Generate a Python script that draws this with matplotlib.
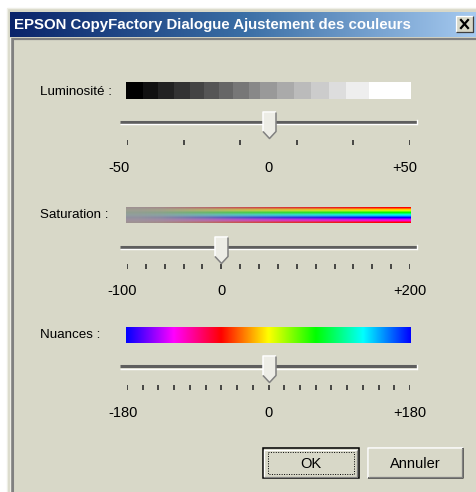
import numpy as np
import matplotlib
matplotlib.use("Agg")
import matplotlib.pyplot as plt
from matplotlib.colors import LinearSegmentedColormap, hsv_to_rgb
from matplotlib.patches import Rectangle
from matplotlib.path import Path

# --- données du dialogue -------------------------------------------------
TITLE = "EPSON CopyFactory Dialogue Ajustement des couleurs"
slider_names = ["Luminosité :", "Saturation :", "Nuances :"]
slider_ranges = [(-50, 50), (-100, 200), (-180, 180)]
slider_values = [0, 0, 0]
tick_step = 20
tick_labels = [["-50", "0", "+50"], ["-100", "0", "+200"], ["-180", "0", "+180"]]

# bande de luminosité : 16 paliers de gris (bords en fraction de la bande)
lum_edges = [0.0, 0.059, 0.114, 0.169, 0.225, 0.272, 0.325, 0.377, 0.430,
             0.471, 0.529, 0.588, 0.649, 0.714, 0.773, 0.852, 1.0]
lum_grays = [0, 17, 34, 51, 68, 85, 102, 119, 136, 153, 170, 187, 204, 221, 238, 255]

# bande de saturation : niveaux de saturation par bloc (gauche -> droite)
sat_levels = [0.05, 0.1, 0.2, 0.3, 0.42, 0.52, 0.62, 0.7, 0.78, 0.86, 0.94, 1.0]
sat_gray = 0.6
sat_rows = 16

# bande des nuances : teinte de départ (bleu) sur 360°
hue_start = 240

button_labels = ["OK", "Annuler"]

# --- mise en page (pixels) -------------------------------------------------
W, H = 477, 492
BG = "#D8D8C8"
DARK = "#808080"
# (haut bande, bas bande, y glissière, haut curseur, bas curseur, y graduations, y nombres, y nom)
sections = [
    (82, 99, 122, 112, 138, 140, 168, 92),
    (207, 223, 247, 237, 262, 264, 291, 215),
    (327, 343, 367, 357, 382, 385, 413, 335),
]
label_dx = [(-8, 0, -5), (-5, 0, 0), (-4, 0, 0)]
X0, X1 = 127, 410  # première et dernière graduation

NARROW = ["Liberation Sans Narrow", "Liberation Sans", "DejaVu Sans"]
SANS = ["Liberation Sans", "DejaVu Sans"]

fig = plt.figure(figsize=(W / 100, H / 100), dpi=100)
fig.patch.set_facecolor("white")
ax = fig.add_axes([0, 0, 1, 1])
ax.set_xlim(0, W)
ax.set_ylim(H, 0)
ax.axis("off")


def bevel(a, x0, y0, x1, y1, light="white", dark=DARK, lw=0.9):
    a.plot([x0, x0, x1], [y1, y0, y0], color=light, lw=lw, solid_capstyle="butt", zorder=3)
    a.plot([x0, x1, x1], [y1, y1, y0], color=dark, lw=lw, solid_capstyle="butt", zorder=3)


# cadre de la fenêtre
ax.add_patch(Rectangle((7, 8), W, H, facecolor=BG, edgecolor="#EEEEE6", lw=1, zorder=1))

# barre de titre en dégradé
cmap_title = LinearSegmentedColormap.from_list("title", ["#0A246A", "#3A6EA5", "#A6CAF0"])
ax.imshow(np.linspace(0, 1, 256)[None, :], cmap=cmap_title, aspect="auto",
          extent=(10, W, 37, 12), interpolation="bilinear", zorder=2)
ax.text(14, 25, TITLE, color="white", fontsize=10.8, fontweight="bold",
        family=SANS, va="center", ha="left", zorder=4)

# bouton de fermeture
ax.add_patch(Rectangle((456, 16), 17, 16, facecolor=BG, edgecolor="none", zorder=3))
bevel(ax, 456, 16, 473, 32, dark="#404040")
ax.plot([461, 468], [20, 28], color="black", lw=1.6, zorder=4)
ax.plot([468, 461], [20, 28], color="black", lw=1.6, zorder=4)

# bordure enfoncée de la zone client
ax.plot([11, W], [38.5, 38.5], color=DARK, lw=1.6, solid_capstyle="butt", zorder=3)
ax.plot([12.5, 12.5], [38, H], color=DARK, lw=2.2, solid_capstyle="butt", zorder=3)
ax.plot([10, 10], [38, H], color="#EEEEE6", lw=1, zorder=3)

ax.set_xlim(0, W)
ax.set_ylim(H, 0)

# forme du curseur (pixels, y vers le haut)
thumb_fill = Path([(-6.5, 13), (6.5, 13), (6.5, -6), (0, -13), (-6.5, -6), (-6.5, 13)],
                  [Path.MOVETO] + [Path.LINETO] * 4 + [Path.CLOSEPOLY])
thumb_light = Path([(-6.5, -6), (-6.5, 13), (6.5, 13), (0, -13)],
                   [Path.MOVETO, Path.LINETO, Path.LINETO, Path.MOVETO])
thumb_dark = Path([(6.5, 13), (6.5, -6), (0, -13), (-6.5, -6), (0, 13)],
                  [Path.MOVETO, Path.LINETO, Path.LINETO, Path.LINETO, Path.MOVETO])
thumb_ms = 26 * 0.72

for i, (name, (vmin, vmax), val) in enumerate(zip(slider_names, slider_ranges, slider_values)):
    bt, bb, ty, tt, tb, gy, ny, namey = sections[i]
    y_top, y_bot = bt - 6, ny + 12
    sax = fig.add_axes([X0 / W, 1 - y_bot / H, (X1 - X0) / W, (y_bot - y_top) / H])
    sax.axis("off")
    k = (vmax - vmin) / (X1 - X0)  # unités par pixel

    # bande de couleur
    left, right = vmin - k, vmax + k
    if i == 0:
        edges = left + np.array(lum_edges) * (right - left)
        sax.bar(edges[:-1], bb - bt, width=np.diff(edges), bottom=bt, align="edge",
                color=[(g / 255, g / 255, g / 255) for g in lum_grays],
                edgecolor="none", clip_on=False)
    elif i == 1:
        hues = np.linspace(0, 1, sat_rows)
        pure = hsv_to_rgb(np.stack([hues, np.ones(sat_rows), np.ones(sat_rows)], axis=1))
        s = np.array(sat_levels)[None, :, None]
        img = sat_gray * (1 - s) + pure[:, None, :] * s
        sax.imshow(img, aspect="auto", extent=(left, right, bb, bt),
                   interpolation="bilinear", clip_on=False)
    else:
        n = 360
        hues = ((hue_start + np.linspace(0, 360, n)) % 360) / 360
        img = hsv_to_rgb(np.stack([hues, np.ones(n), np.ones(n)], axis=1))[None, :, :]
        sax.imshow(img, aspect="auto", extent=(left, right, bb, bt),
                   interpolation="bilinear", clip_on=False)

    # glissière
    sax.plot([vmin - 7 * k, vmax + 7 * k], [ty - 0.5, ty - 0.5], color="#5E5E5E",
             lw=2.2, solid_capstyle="butt", clip_on=False)
    sax.plot([vmin - 7 * k, vmax + 7 * k], [ty + 1.8, ty + 1.8], color="white",
             lw=1.0, solid_capstyle="butt", clip_on=False)
    sax.plot([vmax + 7 * k, vmax + 7 * k], [ty - 2, ty + 2], color="white", lw=1.0, clip_on=False)

    # graduations
    ticks = np.arange(vmin, vmax + 1, tick_step)
    sax.vlines(ticks, gy, gy + 5, color="#202020", lw=1.1)

    # curseur
    cy = (tt + tb) / 2
    sax.plot([val], [cy], marker=thumb_fill, ms=thumb_ms, mfc="#EDEDE6", mec="none",
             ls="none", clip_on=False)
    sax.plot([val], [cy], marker=thumb_light, ms=thumb_ms, mfc="none", mec="white",
             mew=1.1, ls="none", clip_on=False)
    sax.plot([val], [cy], marker=thumb_dark, ms=thumb_ms, mfc="none", mec=DARK,
             mew=1.1, ls="none", clip_on=False)

    # libellés numériques
    for xv, lab, dx in zip([vmin, 0, vmax], tick_labels[i], label_dx[i]):
        sax.text(xv + dx * k, ny, lab, ha="center", va="center", fontsize=10.5,
                 family=NARROW, color="black")

    sax.set_xlim(vmin, vmax)
    sax.set_ylim(y_bot, y_top)

    # nom du réglage
    ax.text(40, namey, name, ha="left", va="center", fontsize=9.6, family=SANS, color="black")

# boutons
ok_x0, ok_x1, by0, by1 = 263, 359, 448, 478
ax.add_patch(Rectangle((ok_x0, by0), ok_x1 - ok_x0, by1 - by0, facecolor=BG,
                       edgecolor="black", lw=1.1, zorder=2))
bevel(ax, ok_x0 + 1.5, by0 + 1.5, ok_x1 - 1.5, by1 - 1.5)
ax.add_patch(Rectangle((268, 452), 86, 22, facecolor="none", edgecolor="black",
                       lw=0.7, ls=(0, (1, 1.5)), zorder=3))
ax.text((ok_x0 + ok_x1) / 2, 463.5, button_labels[0], ha="center", va="center",
        fontsize=10.5, family=NARROW, zorder=4)

an_x0, an_x1 = 368, 463
ax.add_patch(Rectangle((an_x0, by0), an_x1 - an_x0, by1 - by0, facecolor=BG,
                       edgecolor="none", zorder=2))
bevel(ax, an_x0, by0, an_x1, by1, dark="#404040", lw=1.1)
bevel(ax, an_x0 + 1, by0 + 1, an_x1 - 1.2, by1 - 1.2, light=BG, dark=DARK)
ax.text((an_x0 + an_x1) / 2, 463.5, button_labels[1], ha="center", va="center",
        fontsize=10.5, family=NARROW, zorder=4)

fig.savefig("out.png", dpi=100)
